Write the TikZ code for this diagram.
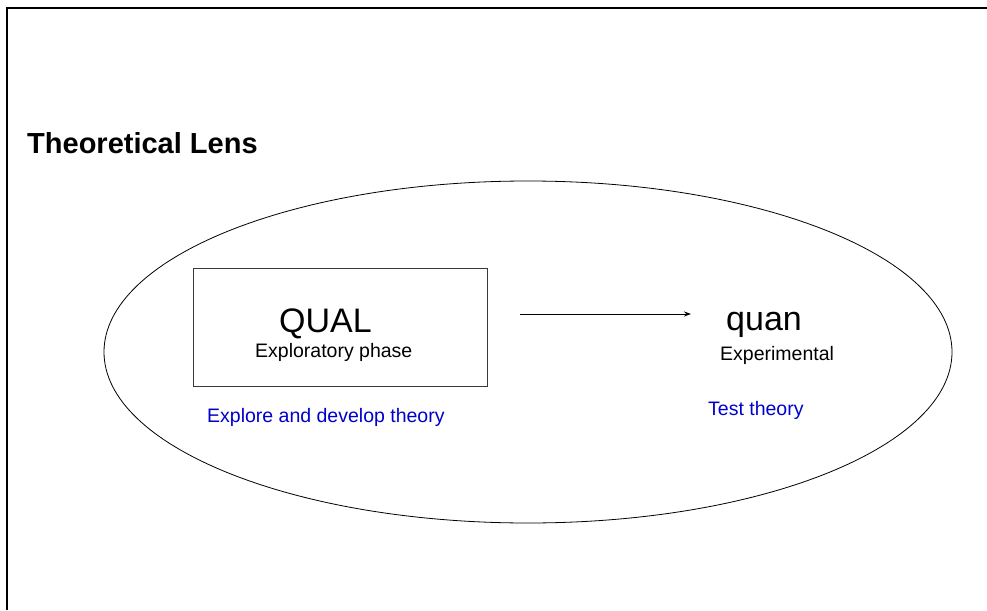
\documentclass[tikz,border=0pt]{standalone}
\usepackage{fontspec}
\setmainfont{Liberation Sans}
\usetikzlibrary{positioning, arrows.meta, shapes.geometric}
\definecolor{Ink}{HTML}{000000}
\definecolor{Frame}{HTML}{3A3A3A}
\definecolor{LensBlue}{HTML}{0000CC}
\tikzset{
    txt/.style={inner sep=0pt, anchor=base west, text=Ink},
    big/.style={txt, font=\fontsize{34}{38}\selectfont},
    small/.style={txt, font=\fontsize{19.5}{22}\selectfont},
    note/.style={txt, text=LensBlue, font=\fontsize{19.5}{22}\selectfont},
    arrow/.style={-{Stealth[length=7pt, width=5pt]}, line width=1pt, color=Ink},
}
\begin{document}
\begin{tikzpicture}[x=1pt, y=-1pt]
    \useasboundingbox (0,0) rectangle (987,610);
    % outer frame
    \draw[line width=1.6pt, Ink] (7,610) -- (7,8) -- (987,8);

    % lens
    \node[txt, font=\bfseries\fontsize{29}{32}\selectfont] (title) at (27,153) {Theoretical Lens};
    \node[draw=Ink, line width=0.8pt, ellipse, inner sep=0pt,
          minimum width=848pt, minimum height=342pt] (lens) at (528,352) {};

    % QUAL phase
    \node[draw=Frame, line width=1pt, inner sep=0pt,
          minimum width=294pt, minimum height=118pt] (qualbox) at (340,327) {};
    \node[big] (qual) at (279,332) {QUAL};
    \node[small] (explor) at (255,357) {Exploratory phase};
    \node[note] (develop) at (207,422) {Explore and develop theory};

    % quan phase
    \node[big] (quan) at (726,330) {quan};
    \node[small] (exper) at (720,360) {Experimental};
    \node[note] (test) at (708,415) {Test theory};

    \coordinate (arrS) at (520,314);
    \coordinate (arrE) at (691,314);
    \draw[arrow] (arrS) -- (arrE);
\end{tikzpicture}
\end{document}
